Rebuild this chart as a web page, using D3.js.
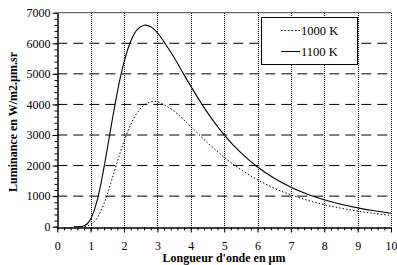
<!DOCTYPE html>
<html><head><meta charset="utf-8">
<script src="https://cdn.jsdelivr.net/npm/d3@7"></script>
<style>html,body{margin:0;padding:0;background:#fff;}svg{display:block;}</style>
</head><body>
<svg id="c" width="397" height="265"></svg>
<script>
const wavelengths = [0.5,0.6,0.7,0.8,0.9,1.0,1.1,1.2,1.3,1.4,1.5,1.6,1.7,1.8,1.9,2.0,2.2,2.4,2.6,2.8,3.0,3.25,3.5,3.75,4.0,4.5,5.0,5.5,6.0,6.5,7.0,7.5,8.0,8.5,9.0,9.5,10.0];
const lum1000 = [0,0,0.5,5.6,24,67,149,297,500,762,1070,1412,1770,2130,2475,2798,3343,3735,3975,4083,4084,3960,3780,3540,3277,2751,2273,1866,1532,1260,1041,864,721,605,511,434,370];
const lum1100 = [0,0.6,5,29,96,249,515,883,1370,1939,2563,3199,3820,4404,4930,5384,6068,6452,6591,6541,6344,5960,5534,5060,4595,3731,3006,2420,1952,1585,1293,1063,880,733,615,520,441];
const seriesNames = ["1000 K","1100 K"];
const xTicks = [0,1,2,3,4,5,6,7,8,9,10];
const yTicks = [0,1000,2000,3000,4000,5000,6000,7000];
const xLabel = "Longueur d'onde en µm";
const yLabel = "Luminance en W/m2.µm.sr";

const svg = d3.select("#c");
const L = 57.3, R = 391, T = 12.7, B = 226.7;
const x = d3.scaleLinear().domain([0,10]).range([L,R]);
const y = d3.scaleLinear().domain([0,7000]).range([B,T]);
const font = "Liberation Serif, Times New Roman, Times, DejaVu Serif, serif";
const px = v => Math.round(v) + 0.5;

// vertical dotted grid
svg.append("g").selectAll("line").data(xTicks.filter(d=>d>0)).join("line")
  .attr("x1",d=>px(x(d))).attr("x2",d=>px(x(d))).attr("y1",Math.round(T)).attr("y2",Math.round(B))
  .attr("stroke","#000").attr("stroke-width",1).attr("stroke-dasharray","1,1");
// horizontal dashed grid
svg.append("g").selectAll("line").data(yTicks.filter(d=>d>0 && d<7000)).join("line")
  .attr("x1",L).attr("x2",R).attr("y1",d=>y(d)).attr("y2",d=>y(d))
  .attr("stroke","#000").attr("stroke-width",1).attr("stroke-dasharray","10,6");
// frame top
svg.append("line").attr("x1",L).attr("x2",R).attr("y1",T).attr("y2",T).attr("stroke","#444").attr("stroke-width",1);

// axes
const xMinor = d3.range(0,10.001,0.2);
const yMinor = d3.range(0,7000.1,200);
const gx = svg.append("g").attr("transform",`translate(0,${px(B)})`);
gx.call(d3.axisBottom(x).tickValues(xMinor).tickSize(3).tickFormat(""));
gx.call(g=>g.select(".domain").remove());
const gx2 = svg.append("g").attr("transform",`translate(0,${px(B)})`)
  .call(d3.axisBottom(x).tickValues(xTicks).tickSize(5).tickSizeOuter(0).tickFormat(d3.format("d")).tickPadding(8.5));
gx2.selectAll("text").attr("font-family",font).attr("font-size",12).attr("fill","#000");
gx2.select(".domain").attr("stroke","#000").attr("stroke-width",1.5);

const gy = svg.append("g").attr("transform",`translate(${px(L)},0)`);
gy.call(d3.axisLeft(y).tickValues(yMinor).tickSize(3).tickFormat(""));
gy.call(g=>g.select(".domain").remove());
const gy2 = svg.append("g").attr("transform",`translate(${px(L)},0)`)
  .call(d3.axisLeft(y).tickValues(yTicks).tickSize(5).tickSizeOuter(0).tickFormat(d3.format("d")).tickPadding(2));
gy2.selectAll("text").attr("font-family",font).attr("font-size",12).attr("fill","#000");
gy2.select(".domain").attr("stroke","#000").attr("stroke-width",1.5);

// curves
const line = vals => d3.line().x((d,i)=>x(wavelengths[i])).y(d=>y(d)).curve(d3.curveCatmullRom)(vals);
svg.append("path").attr("d",line(lum1000)).attr("fill","none").attr("stroke","#000")
  .attr("stroke-width",1).attr("stroke-dasharray","1.5,2");
svg.append("path").attr("d",line(lum1100)).attr("fill","none").attr("stroke","#000").attr("stroke-width",1.1);

// legend
const lg = svg.append("g");
lg.append("rect").attr("x",261.5).attr("y",17.5).attr("width",96).attr("height",47)
  .attr("fill","#fff").attr("stroke","#000").attr("stroke-width",1);
const ly = [30.5,51.5];
lg.selectAll("line.k").data(seriesNames).join("line")
  .attr("x1",281).attr("x2",300).attr("y1",(d,i)=>ly[i]).attr("y2",(d,i)=>ly[i])
  .attr("stroke","#000").attr("stroke-width",1).attr("stroke-dasharray",(d,i)=>i===0?"1.5,2":null);
lg.selectAll("text").data(seriesNames).join("text")
  .attr("x",301).attr("y",(d,i)=>ly[i]+4.5).text(d=>d)
  .attr("font-family",font).attr("font-size",12.5);

// axis titles
svg.append("text").attr("x",224).attr("y",262).attr("text-anchor","middle")
  .attr("font-family",font).attr("font-size",12).attr("font-weight","bold").text(xLabel);
svg.append("text").attr("transform","translate(17,122) rotate(-90)").attr("text-anchor","middle")
  .attr("font-family",font).attr("font-size",12).attr("font-weight","bold").text(yLabel);
</script>
</body></html>
